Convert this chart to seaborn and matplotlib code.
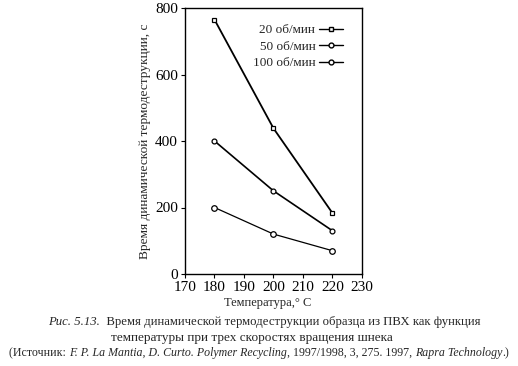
import matplotlib
matplotlib.use("Agg")
import matplotlib.pyplot as plt
import seaborn as sns
import pandas as pd
from matplotlib.lines import Line2D

sns.set_theme(style="ticks")
plt.rcParams['font.family'] = ['Liberation Serif', 'DejaVu Serif']

temps = [180, 200, 220]
series_names = ["20 об/мин", "50 об/мин", "100 об/мин"]
vals_20 = [765, 438, 183]
vals_50 = [400, 250, 130]
vals_100 = [200, 120, 70]
x_ticks = [170, 180, 190, 200, 210, 220, 230]
y_ticks = [0, 200, 400, 600, 800]

rows = []
for name, vals in zip(series_names, [vals_20, vals_50, vals_100]):
    for t, v in zip(temps, vals):
        rows.append({"T": t, "v": v, "s": name})
df = pd.DataFrame(rows)

fig = plt.figure(figsize=(5.18, 3.66), dpi=100)
ax = fig.add_axes([185/518, 1-274/366, (362-185)/518, (274-8)/366])

markers = {series_names[0]: "s", series_names[1]: "o", series_names[2]: "o"}
sizes = {series_names[0]: 3.5, series_names[1]: 3.5, series_names[2]: 4}
lws = {series_names[0]: 1.3, series_names[1]: 1.2, series_names[2]: 0.9}
for name in series_names:
    sub = df[df.s == name]
    sns.lineplot(data=sub, x="T", y="v", ax=ax, color="black", marker=markers[name],
                 markersize=sizes[name], markerfacecolor="white", markeredgecolor="black",
                 markeredgewidth=0.9, linewidth=lws[name], legend=False)

ax.set_xlim(170, 230)
ax.set_ylim(0, 800)
ax.set_xticks(x_ticks)
ax.set_yticks(y_ticks)
ax.tick_params(labelsize=11, length=3, width=0.8, colors="black", pad=2)
for sp in ax.spines.values():
    sp.set_visible(True)
    sp.set_linewidth(1.0)
    sp.set_color("black")
ax.set_xlabel("")
ax.set_ylabel("Время динамической термодеструкции, с", fontsize=9.6, labelpad=3)

handles = [Line2D([], [], color="black", marker=markers[n], markersize=3.5,
                  markerfacecolor="white", markeredgecolor="black", linewidth=1.0)
           for n in series_names]
leg = ax.legend(handles, series_names, loc="upper right", bbox_to_anchor=(343/518, 1-24/366),
                bbox_transform=fig.transFigure,
                frameon=False, markerfirst=False, fontsize=9.5, handlelength=1.8,
                handletextpad=0.3, labelspacing=0.32, borderaxespad=0, borderpad=0)

fig.text(268/518, 1-303/366, "Температура,° C", ha="center", va="center", fontsize=9)

fig.canvas.draw()
renderer = fig.canvas.get_renderer()

def draw_line(parts, y_px, center_px, fs=9.5):
    texts = []
    for s, italic in parts:
        t = fig.text(0, 1-y_px/366, s, ha="left", va="center", fontsize=fs,
                     style="italic" if italic else "normal")
        texts.append(t)
    widths = [t.get_window_extent(renderer).width for t in texts]
    total = sum(widths)
    x = center_px - total/2
    for t, w in zip(texts, widths):
        t.set_x(x/518)
        x += w

draw_line([("Рис. 5.13.", True), ("  Время динамической термодеструкции образца из ПВХ как функция", False)], 322, 264, fs=9.2)
draw_line([("температуры при трех скоростях вращения шнека", False)], 338, 252, fs=9.5)
draw_line([("(Источник: ", False), ("F. P. La Mantia, D. Curto. Polymer Recycling", True),
           (", 1997/1998, 3, 275. 1997, ", False), ("Rapra Technology", True), (".)", False)], 353, 259, fs=8.6)

fig.savefig("out.png", dpi=100)
